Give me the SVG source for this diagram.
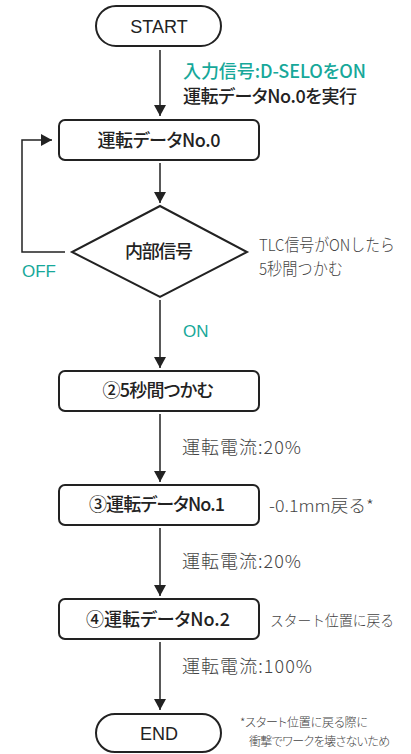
<svg xmlns="http://www.w3.org/2000/svg" width="411" height="754" viewBox="0 0 411 754">
<style>
.sh{fill:#fff;stroke:#222;stroke-width:2}
.ln{stroke:#222;stroke-width:1.5;fill:none}
.jp{font-family:"Noto Sans CJK JP","Noto Sans",sans-serif;font-feature-settings:"palt"}
.np{font-feature-settings:normal}
.nb{font-size:18px;font-weight:500;fill:#222;text-anchor:middle}
.lb{font-size:18px;font-weight:300;fill:#444}
.sm{font-size:16.5px;font-weight:300;fill:#444}
.tl{fill:#17a89a;font-size:18px;font-weight:500}
.lat{font-family:"Liberation Sans",Arial,sans-serif;font-size:17px;fill:#17a89a}
.term{font-family:"Liberation Sans",Arial,sans-serif;font-size:18px;fill:#222;text-anchor:middle}
</style>
<defs>
<marker id="ah" markerWidth="12" markerHeight="12" refX="11" refY="6" orient="auto" markerUnits="userSpaceOnUse">
<path d="M0,0 L11,6 L0,12 Z" fill="#222"/>
</marker>
</defs>
<g id="connectors">
<line class="ln" x1="160" y1="50" x2="160" y2="116" marker-end="url(#ah)"/>
<line class="ln" x1="160" y1="163" x2="160" y2="203" marker-end="url(#ah)"/>
<polyline class="ln" points="65,252 22,252 22,140 52,140" marker-end="url(#ah)"/>
<line class="ln" x1="160" y1="300" x2="160" y2="368" marker-end="url(#ah)"/>
<line class="ln" x1="160" y1="414" x2="160" y2="482" marker-end="url(#ah)"/>
<line class="ln" x1="160" y1="528" x2="160" y2="596" marker-end="url(#ah)"/>
<line class="ln" x1="160" y1="642" x2="160" y2="710" marker-end="url(#ah)"/>
<text class="jp tl" x="183" y="78" textLength="183" lengthAdjust="spacing">入力信号:D-SELOをON</text>
<text class="jp" x="183" y="103" font-size="18" font-weight="500" fill="#222" textLength="174" lengthAdjust="spacing">運転データNo.0を実行</text>
<text class="lat" x="22" y="277">OFF</text>
<text class="lat" x="183" y="337">ON</text>
<text class="jp lb" x="182" y="454" textLength="119" lengthAdjust="spacing">運転電流:20%</text>
<text class="jp lb" x="182" y="568" textLength="119" lengthAdjust="spacing">運転電流:20%</text>
<text class="jp lb" x="182" y="673" textLength="130" lengthAdjust="spacing">運転電流:100%</text>
</g>
<g id="start">
<rect class="sh" x="96" y="6" width="125" height="40" rx="20"/>
<text class="term" x="159" y="33">START</text>
</g>
<g id="step0">
<rect class="sh" x="59" y="120" width="200" height="40" rx="6"/>
<text class="jp nb" x="159" y="147" textLength="123" lengthAdjust="spacing">運転データNo.0</text>
</g>
<g id="decision">
<polygon class="sh" points="160,206 247,252 160,297 72,252"/>
<text class="jp nb" x="159" y="258" textLength="68" lengthAdjust="spacing">内部信号</text>
<text class="jp sm np" x="259" y="251" textLength="136" lengthAdjust="spacingAndGlyphs">TLC信号がONしたら</text>
<text class="jp sm np" x="259" y="275" textLength="84" lengthAdjust="spacingAndGlyphs">5秒間つかむ</text>
</g>
<g id="step2">
<rect class="sh" x="59" y="371" width="200" height="40" rx="6"/>
<text class="jp nb" x="158" y="397" textLength="111" lengthAdjust="spacing">②5秒間つかむ</text>
</g>
<g id="step3">
<rect class="sh" x="59" y="485" width="200" height="40" rx="6"/>
<text class="jp nb" x="157" y="511" textLength="136" lengthAdjust="spacing">③運転データNo.1</text>
<text class="jp sm np" x="269" y="512" textLength="105" lengthAdjust="spacingAndGlyphs">-0.1mm戻る*</text>
</g>
<g id="step4">
<rect class="sh" x="59" y="599" width="200" height="40" rx="6"/>
<text class="jp nb" x="158" y="626" textLength="144" lengthAdjust="spacing">④運転データNo.2</text>
<text class="jp np" x="270" y="626" font-size="15" font-weight="300" fill="#444" textLength="124" lengthAdjust="spacingAndGlyphs">スタート位置に戻る</text>
</g>
<g id="end">
<rect class="sh" x="96" y="714" width="125" height="38" rx="19"/>
<text class="term" x="159" y="740">END</text>
<text class="jp" x="240" y="727" font-size="12" font-weight="300" fill="#444" textLength="128" lengthAdjust="spacing">*スタート位置に戻る際に</text>
<text class="jp" x="249" y="746" font-size="12" font-weight="300" fill="#444" textLength="141" lengthAdjust="spacing">衝撃でワークを壊さないため</text>
</g>
</svg>
